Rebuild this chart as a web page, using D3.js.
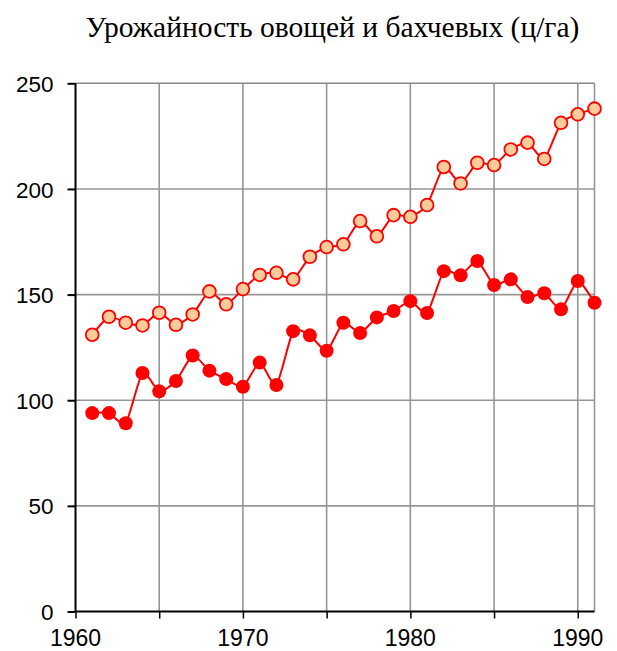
<!DOCTYPE html>
<html>
<head>
<meta charset="utf-8">
<script src="https://cdn.jsdelivr.net/npm/d3@7"></script>
<style>
  body { margin: 0; background: #fff; }
  svg { display: block; }
</style>
</head>
<body>
<svg id="chart" width="617" height="651"></svg>
<script>
// Years on the x axis
const years = d3.range(1961, 1992);

// Upper series (open markers)
const upperValues = [131, 139.5, 136.7, 135.4, 141.4, 135.7, 140.6, 151.5, 145.4, 152.6,
  159.3, 160.3, 157.2, 167.9, 172.5, 173.8, 184.8, 177.6, 187.6, 186.8,
  192.4, 210.4, 202.6, 212.4, 211.3, 218.7, 221.9, 214.2, 231.3, 235.3, 238];

// Lower series (filled markers)
const lowerValues = [93.9, 93.9, 89.1, 112.9, 104.2, 109.1, 121.2, 114, 110, 106.4,
  117.8, 107.2, 132.7, 130.7, 123.4, 136.7, 131.8, 139.2, 142.2, 146.9,
  141.3, 161.1, 159.1, 165.9, 154.5, 157.2, 148.8, 150.6, 143, 156.4, 146.1];

const yTicks = [0, 50, 100, 150, 200, 250];
const xGridTicks = [1965, 1970, 1975, 1980, 1985, 1990];
const xLabelTicks = [1960, 1970, 1980, 1990];
const titleText = "Урожайность овощей и бахчевых (ц/га)";

const svg = d3.select("#chart");
const labelFont = "'Liberation Sans', Arial, sans-serif";

// plot area box
const plotLeft = 75.5, plotRight = 594.5, plotTop = 83.3, plotBottom = 611.5;

let x = d3.scaleLinear().domain([1960, 1991]).range([plotLeft, plotRight]);
let y = d3.scaleLinear().domain([0, 250]).range([plotBottom, plotTop]);

// grid lines
let grid = svg.append("g");
grid.selectAll("line.v")
  .data(xGridTicks.concat([1991]))
  .enter().append("line")
    .attr("x1", d => x(d)).attr("x2", d => x(d))
    .attr("y1", plotTop).attr("y2", plotBottom)
    .attr("stroke", "#969696").attr("stroke-width", 1.6);
grid.selectAll("line.h")
  .data(yTicks.filter(d => d > 0))
  .enter().append("line")
    .attr("x1", plotLeft).attr("x2", plotRight)
    .attr("y1", d => y(d)).attr("y2", d => y(d))
    .attr("stroke", d => d === 250 ? "#888" : "#969696").attr("stroke-width", 1.6);

// axes
let yAxis = d3.axisLeft(y).tickValues(yTicks).tickSize(8).tickPadding(14);
let yg = svg.append("g").attr("transform", `translate(${plotLeft},0)`).call(yAxis);
yg.select(".domain").attr("stroke", "#000").attr("stroke-width", 2).attr("d", `M0,${plotTop}V${plotBottom}`);
yg.selectAll(".tick line").attr("stroke", "#000").attr("stroke-width", 2);
yg.selectAll(".tick text")
  .attr("dy", "0.36em")
  .style("font-family", labelFont)
  .style("font-size", "22.5px")
  .attr("fill", "#000");

let xAxis = d3.axisBottom(x).tickValues([1960].concat(xGridTicks)).tickSize(7).tickFormat("");
let xg = svg.append("g").attr("transform", `translate(0,${plotBottom})`).call(xAxis);
xg.select(".domain").attr("stroke", "#000").attr("stroke-width", 2).attr("d", `M${plotLeft},0H${plotRight}`);
xg.selectAll(".tick line").attr("stroke", "#000").attr("stroke-width", 1.5);

svg.append("g").selectAll("text")
  .data(xLabelTicks)
  .enter().append("text")
    .attr("x", d => x(d))
    .attr("y", plotBottom + 34)
    .attr("text-anchor", "middle")
    .style("font-family", labelFont)
    .style("font-size", "23px")
    .attr("fill", "#000")
    .text(d => d);

// title
svg.append("text")
  .attr("x", 332.5)
  .attr("y", 37)
  .attr("text-anchor", "middle")
  .style("font-family", "'Liberation Serif', 'Times New Roman', serif")
  .style("font-size", "29.5px")
  .text(titleText);

// series
let line = d3.line()
  .x((d, i) => x(years[i]))
  .y(d => y(d))
  .curve(d3.curveCardinal.tension(0.4));

svg.append("path").datum(upperValues)
  .attr("d", line).attr("fill", "none")
  .attr("stroke", "#ff0000").attr("stroke-width", 2);
svg.append("path").datum(lowerValues)
  .attr("d", line).attr("fill", "none")
  .attr("stroke", "#ff0000").attr("stroke-width", 2);

svg.append("g").selectAll("circle")
  .data(upperValues)
  .enter().append("circle")
    .attr("cx", (d, i) => x(years[i]))
    .attr("cy", d => y(d))
    .attr("r", 6.4)
    .attr("fill", "#ffcc99")
    .attr("stroke", "#ff0000").attr("stroke-width", 1.8);

svg.append("g").selectAll("circle")
  .data(lowerValues)
  .enter().append("circle")
    .attr("cx", (d, i) => x(years[i]))
    .attr("cy", d => y(d))
    .attr("r", 7)
    .attr("fill", "#ff0000");
</script>
</body>
</html>
